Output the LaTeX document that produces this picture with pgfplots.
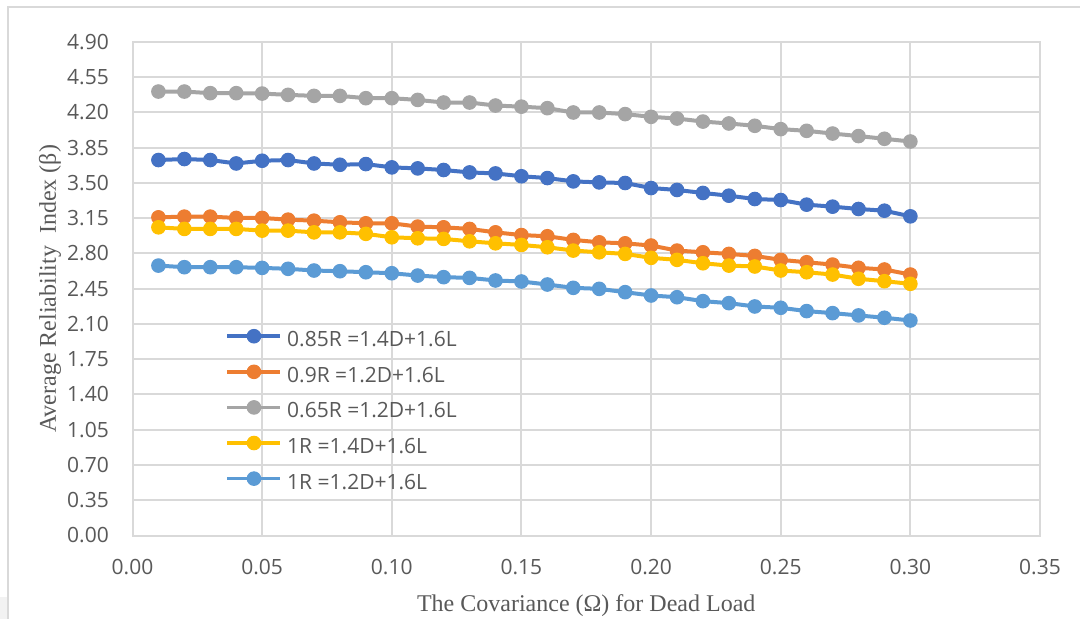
\documentclass[border=0pt]{standalone}
\usepackage{pgfplots}
\pgfplotsset{compat=1.18}
\usepackage{pgfplotstable}
\usepackage{fontspec}
\setmainfont{Open Sans}
\newfontfamily\titlefont{Liberation Serif}

\definecolor{sA}{HTML}{4472C4}
\definecolor{sB}{HTML}{ED7D31}
\definecolor{sC}{HTML}{A5A5A5}
\definecolor{sD}{HTML}{FFC000}
\definecolor{sE}{HTML}{5B9BD5}
\definecolor{gridc}{HTML}{D9D9D9}
\definecolor{txt}{HTML}{595959}

% Average reliability index vs. covariance of the dead load
\pgfplotstableread{
x     a      b      c      d      e
0.01  3.728  3.159  4.408  3.060  2.680
0.02  3.738  3.166  4.408  3.044  2.664
0.03  3.728  3.166  4.392  3.044  2.664
0.04  3.694  3.153  4.392  3.044  2.664
0.05  3.721  3.153  4.388  3.027  2.657
0.06  3.728  3.136  4.375  3.027  2.648
0.07  3.694  3.126  4.365  3.010  2.631
0.08  3.681  3.110  4.365  3.010  2.624
0.09  3.688  3.100  4.342  2.995  2.614
0.10  3.655  3.100  4.342  2.961  2.604
0.11  3.645  3.067  4.325  2.951  2.581
0.12  3.629  3.060  4.299  2.945  2.565
0.13  3.605  3.044  4.299  2.921  2.558
0.14  3.595  3.010  4.269  2.901  2.532
0.15  3.567  2.983  4.258  2.885  2.522
0.16  3.549  2.971  4.243  2.862  2.492
0.17  3.516  2.935  4.200  2.829  2.459
0.18  3.506  2.911  4.200  2.812  2.449
0.19  3.500  2.901  4.184  2.796  2.416
0.20  3.450  2.879  4.157  2.757  2.383
0.21  3.431  2.829  4.140  2.737  2.366
0.22  3.401  2.812  4.110  2.703  2.327
0.23  3.374  2.796  4.091  2.680  2.307
0.24  3.341  2.776  4.068  2.671  2.274
0.25  3.331  2.737  4.035  2.631  2.261
0.26  3.285  2.713  4.018  2.614  2.228
0.27  3.265  2.690  3.991  2.591  2.208
0.28  3.242  2.658  3.966  2.549  2.185
0.29  3.225  2.641  3.939  2.525  2.162
0.30  3.169  2.591  3.912  2.499  2.135
}\betadata

\begin{document}
\begin{tikzpicture}[x=1pt,y=1pt]
\useasboundingbox (0,0) rectangle (1080,619);
\fill[white] (0,0) rectangle (1080,619);
\fill[gray!10] (0,0) rectangle (7,22);
\draw[gridc, line width=2pt] (8,-5) -- (8,612) -- (1090,612);
\begin{axis}[
  at={(132.5pt,83.5pt)}, anchor=south west,
  scale only axis, width=907.5pt, height=493.5pt,
  xmin=0, xmax=0.35, ymin=0, ymax=4.9,
  xtick={0,0.05,0.1,0.15,0.2,0.25,0.3,0.35},
  ytick={0,0.35,0.7,1.05,1.4,1.75,2.1,2.45,2.8,3.15,3.5,3.85,4.2,4.55,4.9},
  grid=major, major grid style={gridc, line width=2pt},
  axis line style={gridc, line width=2pt},
  major tick length=0pt,
  /pgf/number format/assume math mode=true,
  tick label style={font=\fontsize{21}{25}\selectfont, text=txt,
    /pgf/number format/fixed, /pgf/number format/fixed zerofill,
    /pgf/number format/precision=2},
  yticklabel style={anchor=east, inner sep=0pt, xshift=-23.5pt},
  xticklabel style={anchor=north, inner sep=0pt, yshift=-24pt},
  xlabel={The Covariance (Ω) for Dead Load},
  ylabel={Average Reliability\hspace{0.25em} Index (β)},
  xlabel style={at={(rel axis cs:0.5,-0.154)}, anchor=base,
    font=\titlefont\fontsize{24}{28}\selectfont, text=txt},
  ylabel style={at={(rel axis cs:-0.0909,0.5)}, anchor=center,
    font=\titlefont\fontsize{24}{28}\selectfont, text=txt},
  legend style={at={(rel axis cs:0.1025,0.418)}, anchor=north west,
    draw=none, fill=none, inner sep=0pt,
    font=\fontsize{21}{25}\selectfont, text=txt,
    row sep=14.3pt, column sep=5pt,
    nodes={inner sep=0pt, text height=15pt, text depth=4pt}},
  legend cell align=left,
  legend image code/.code={%
    \draw[#1, line width=3.5pt, mark repeat=2, mark phase=2]
      plot coordinates {(0pt,5pt) (26.5pt,5pt) (53pt,5pt)};},
  every axis plot/.append style={line width=4pt, mark=*, mark size=6.8pt},
]
\addplot[sA, mark options={fill=sA, draw=sA, line width=1pt}] table[x=x, y=a] {\betadata};
\addlegendentry{0.85R =1.4D+1.6L}
\addplot[sB, mark options={fill=sB, draw=sB, line width=1pt}] table[x=x, y=b] {\betadata};
\addlegendentry{0.9R =1.2D+1.6L}
\addplot[sC, mark options={fill=sC, draw=sC, line width=1pt}] table[x=x, y=c] {\betadata};
\addlegendentry{0.65R =1.2D+1.6L}
\addplot[sD, mark options={fill=sD, draw=sD, line width=1pt}] table[x=x, y=d] {\betadata};
\addlegendentry{1R =1.4D+1.6L}
\addplot[sE, mark options={fill=sE, draw=sE, line width=1pt}] table[x=x, y=e] {\betadata};
\addlegendentry{1R =1.2D+1.6L}
\end{axis}
\end{tikzpicture}
\end{document}
